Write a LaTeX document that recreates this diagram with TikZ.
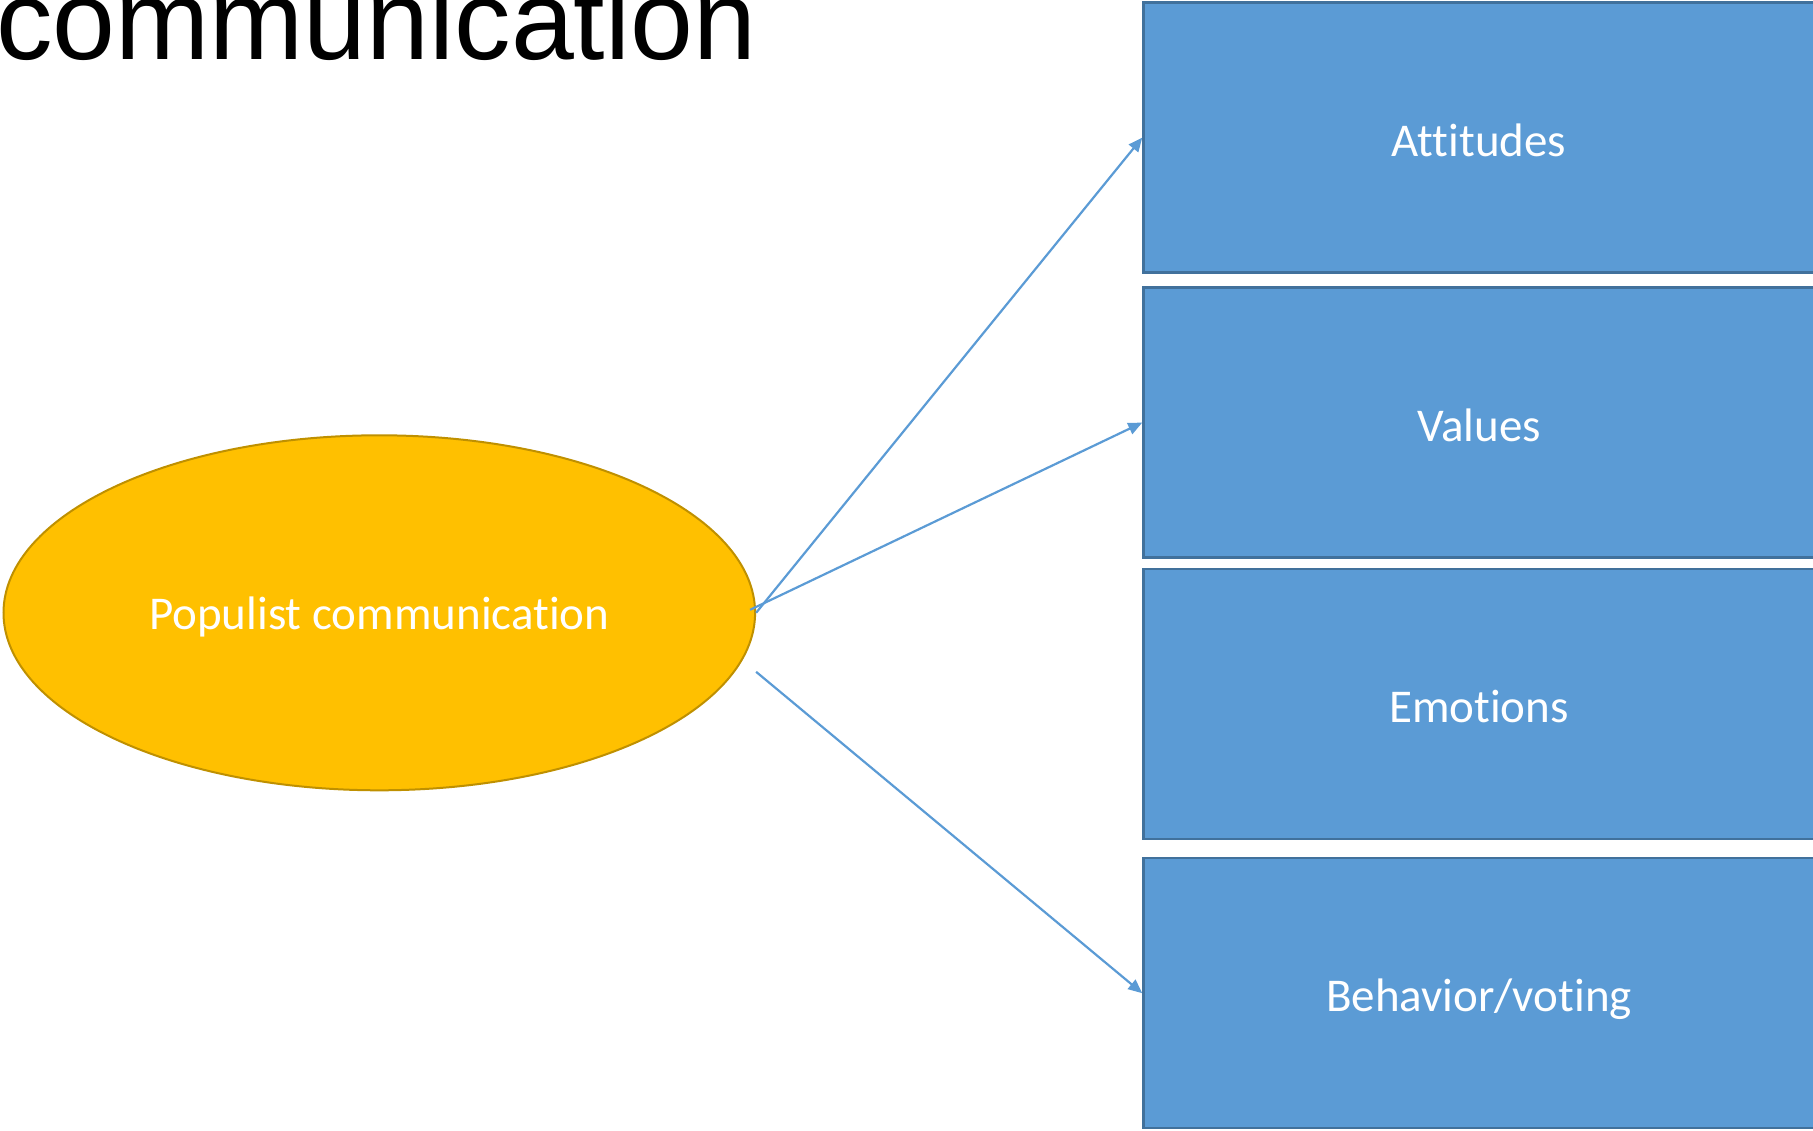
\documentclass[tikz,border=0pt]{standalone}
\usepackage{fontspec}
\setmainfont{Carlito}[Ligatures={NoCommon}]
\newfontfamily\titlefont{Liberation Sans}
\usetikzlibrary{shapes.geometric,arrows.meta}
\definecolor{boxblue}{HTML}{5B9BD5}
\definecolor{boxedge}{HTML}{41719C}
\definecolor{gold}{HTML}{FFC000}
\definecolor{goldedge}{HTML}{BF9000}
\begin{document}
\begin{tikzpicture}[x=1pt,y=-1pt,
  outbox/.style={draw=boxedge,line width=2.5pt,fill=boxblue,minimum width=671pt,minimum height=270pt,inner sep=0pt,text=white,text height=37pt,text depth=0pt,font=\fontsize{47}{56}\selectfont},
  conn/.style={draw=boxblue,line width=2.2pt,-{Triangle[length=14pt,width=12pt]}}]
\useasboundingbox (0,0) rectangle (1813,1131);
\node[anchor=base west,inner sep=0pt,font=\titlefont\fontsize{113}{120}\selectfont] (title) at (-4,60) {communication};
\node[outbox] (att) at (1479,137.6) {Attitudes};
\node[outbox] (val) at (1479,422.6) {Values};
\node[outbox] (emo) at (1479,704.2) {Emotions};
\node[outbox] (beh) at (1479,993.2) {Behavior/voting};
\node[ellipse,draw=goldedge,line width=2pt,fill=gold,minimum width=751.6pt,minimum height=355pt,inner sep=0pt,text=white,text height=40pt,text depth=7pt,font=\fontsize{47}{56}\selectfont] (pc) at (379.3,612.8) {Populist communication};
\coordinate (bstart) at ([yshift=-59pt]pc.east);
\draw[conn] (pc.east) -- (att.west);
\draw[conn] ([xshift=-6pt,yshift=3pt]pc.east) -- (val.west);
\draw[conn] (bstart) -- (beh.west);
\end{tikzpicture}
\end{document}
